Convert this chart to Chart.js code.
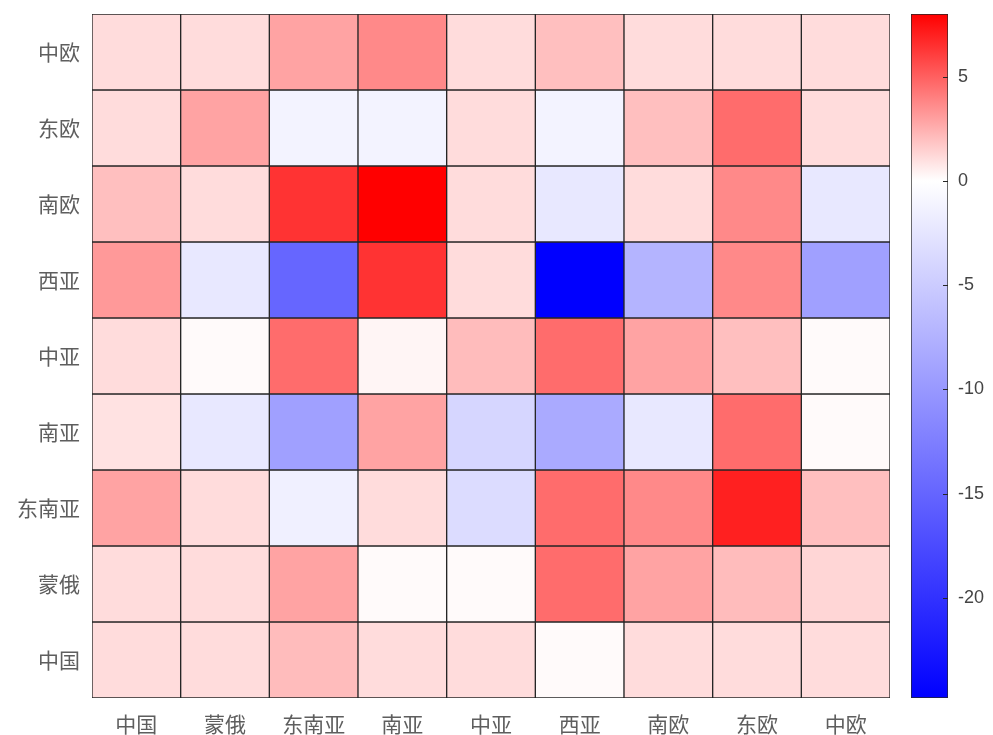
<!DOCTYPE html>
<html>
<head>
<meta charset="utf-8">
<script src="https://cdn.jsdelivr.net/npm/chart.js@4"></script>
<style>
body{margin:0;background:#fff;}
#wrap{position:relative;width:993px;height:735px;}
#heat{position:absolute;left:0;top:0;}
#bar{position:absolute;left:900px;top:0;}
</style>
</head>
<body>
<div id="wrap">
<canvas id="heat" width="900" height="735"></canvas>
<canvas id="bar" width="93" height="735"></canvas>
</div>
<script>
const xLabels=["中国","蒙俄","东南亚","南亚","中亚","西亚","南欧","东欧","中欧"];
const yLabels=["中欧","东欧","南欧","西亚","中亚","南亚","东南亚","蒙俄","中国"]; // top to bottom

// one row per y label, top to bottom
const rowCE=[1.1,1.1,2.9,3.7,1.1,2.0,1.1,1.1,1.1];
const rowEE=[1.1,2.9,-1.2,-1.2,1.1,-1.2,2.0,4.6,1.1];
const rowSE=[2.0,1.1,6.4,8.0,1.1,-2.2,1.1,3.7,-2.2];
const rowWA=[3.2,-2.2,-14.9,6.4,1.1,-24.8,-7.3,3.7,-9.2];
const rowCA=[1.1,0.15,4.6,0.3,2.1,4.6,2.9,2.0,0.15];
const rowSA=[0.9,-2.2,-9.2,2.9,-4.0,-8.3,-2.2,4.6,0.15];
const rowSEA=[2.9,1.1,-1.5,1.1,-3.4,4.6,3.7,7.0,2.0];
const rowMR=[1.1,1.1,2.9,0.15,0.15,4.6,2.9,2.1,1.3];
const rowCN=[1.1,1.1,2.1,1.1,1.1,0.15,1.1,1.1,1.1];
const rows=[rowCE,rowEE,rowSE,rowWA,rowCA,rowSA,rowSEA,rowMR,rowCN];

const cMin=-24.8, cMax=8;
const cTicks=[-20,-15,-10,-5,0,5];

const labelFont={family:"'Noto Sans CJK SC', 'Noto Sans', sans-serif",size:21};
const labelColor='#5e5e5e';
const noGrid={display:false,drawTicks:false,tickLength:0};

function colorFor(v){
    if(v>=0){
        const g=Math.round(255*(1-Math.min(v/cMax,1)));
        return `rgb(255,${g},${g})`;
    }
    const r=Math.round(255*(1-Math.min(v/cMin,1)));
    return `rgb(${r},${r},255)`;
}

const n=yLabels.length;
const datasets=rows.map((vals,i)=>({
    data:vals.map(()=>[n-1-i,n-i]),
    backgroundColor:vals.map(colorFor),
    borderColor:'#262626',
    borderWidth:1,
    borderSkipped:false,
    barPercentage:1,
    categoryPercentage:1,
    grouped:false
}));

new Chart(document.getElementById('heat'),{
    type:'bar',
    data:{labels:xLabels,datasets},
    options:{
        responsive:false,
        animation:false,
        layout:{padding:{left:0,top:14,right:10,bottom:0}},
        plugins:{legend:{display:false},tooltip:{enabled:false}},
        scales:{
            x:{
                grid:noGrid,
                border:{display:false},
                ticks:{font:labelFont,color:labelColor,padding:13,maxRotation:0,autoSkip:false},
                afterFit:s=>{s.height=37;s.paddingLeft=0;s.paddingRight=0;}
            },
            y:{
                min:0,max:n,
                grid:noGrid,
                border:{display:false},
                afterBuildTicks:s=>{s.ticks=yLabels.map((_,i)=>({value:i+0.5}));},
                ticks:{font:labelFont,color:labelColor,padding:12,autoSkip:false,
                    callback:v=>yLabels[n-1-Math.floor(v)]},
                afterFit:s=>{s.width=92;s.paddingTop=0;s.paddingBottom=0;}
            }
        }
    }
});

const innerTicks={
    id:'innerTicks',
    afterDatasetsDraw(chart){
        const {ctx,chartArea}=chart;
        const y=chart.scales.y;
        ctx.save();
        ctx.strokeStyle='#262626';
        ctx.lineWidth=1;
        cTicks.forEach(t=>{
            const py=Math.round(y.getPixelForValue(t))+0.5;
            ctx.beginPath();
            ctx.moveTo(chartArea.right-5,py);
            ctx.lineTo(chartArea.right,py);
            ctx.stroke();
        });
        ctx.restore();
    }
};

new Chart(document.getElementById('bar'),{
    type:'bar',
    data:{labels:[''],datasets:[{
        data:[[cMin,cMax]],
        backgroundColor:c=>{
            const chart=c.chart;
            if(!chart.chartArea) return '#fff';
            const y=chart.scales.y;
            const y0=y.getPixelForValue(cMin), y1=y.getPixelForValue(cMax);
            const g=chart.ctx.createLinearGradient(0,y0,0,y1);
            const z=(0-cMin)/(cMax-cMin);
            g.addColorStop(0,'rgb(0,0,255)');
            g.addColorStop(z,'rgb(255,255,255)');
            g.addColorStop(1,'rgb(255,0,0)');
            return g;
        },
        borderColor:'#262626',
        borderWidth:1,
        borderSkipped:false,
        barPercentage:1,
        categoryPercentage:1
    }]},
    options:{
        responsive:false,
        animation:false,
        layout:{padding:{left:11,top:14,right:0,bottom:37}},
        plugins:{legend:{display:false},tooltip:{enabled:false}},
        scales:{
            x:{display:false},
            y:{
                position:'right',
                min:cMin,max:cMax,
                grid:noGrid,
                border:{display:false},
                afterBuildTicks:s=>{s.ticks=cTicks.map(v=>({value:v}));},
                ticks:{font:{family:"'Liberation Sans', Arial, sans-serif",size:18},color:'#444',padding:10},
                afterFit:s=>{s.width=45;s.paddingTop=0;s.paddingBottom=0;}
            }
        }
    },
    plugins:[innerTicks]
});
</script>
</body>
</html>
